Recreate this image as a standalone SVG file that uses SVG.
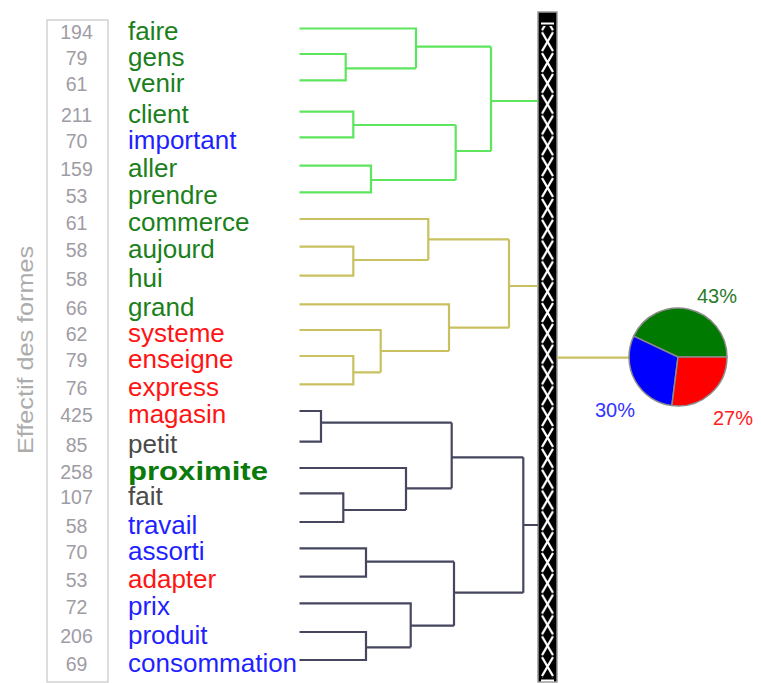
<svg xmlns="http://www.w3.org/2000/svg" width="761" height="683" viewBox="0 0 761 683">
<style>
.w{font-family:"Liberation Sans",Arial,sans-serif;font-size:26px}
.n{font-family:"Liberation Sans",Arial,sans-serif;font-size:19.5px;fill:#a09ca4;text-anchor:middle}
.g{fill:#1b7f1b}.b{fill:#1f1fff}.r{fill:#ff1414}.k{fill:#4a4a4a}
.cg,.cy,.cd{fill:none;stroke-width:2.2}
.cg{stroke:#5de65d}.cy{stroke:#c9c160}.cd{stroke:#46465f}
.p{font-family:"Liberation Sans",Arial,sans-serif;font-size:20px}
</style>
<defs>
<pattern id="xpat" patternUnits="userSpaceOnUse" x="541" y="10.47" width="13" height="20.83">
<path d="M1,1 L12,19.8 M12,1 L1,19.8" stroke="#fff" stroke-width="2.3" fill="none"/>
</pattern>
</defs>
<rect width="761" height="683" fill="#fff"/>
<rect x="47" y="20" width="61" height="662" fill="none" stroke="#d2d2d2" stroke-width="1.5"/>
<text transform="translate(33,350) rotate(-90)" text-anchor="middle" font-family="'Liberation Sans',Arial,sans-serif" font-size="22" fill="#acacac" textLength="208" lengthAdjust="spacingAndGlyphs">Effectif des formes</text>
<g id="bar">
<rect x="538" y="12" width="19" height="670" fill="#000" stroke="#9a9a9a" stroke-width="1.5"/>
<rect x="541" y="26" width="13" height="652" fill="url(#xpat)"/>
<path d="M541,23.5 H554 M541,680.5 H554" stroke="#fff" stroke-width="1.8"/>
</g>
<g id="leaf-faire"><text class="n" x="76.5" y="39">194</text><text class="w g" x="128" y="40">faire</text></g>
<g id="leaf-gens"><text class="n" x="76.5" y="64.5">79</text><text class="w g" x="128" y="65.5">gens</text></g>
<g id="leaf-venir"><text class="n" x="76.5" y="91">61</text><text class="w g" x="128" y="92">venir</text></g>
<g id="leaf-client"><text class="n" x="76.5" y="122">211</text><text class="w g" x="128" y="123">client</text></g>
<g id="leaf-important"><text class="n" x="76.5" y="148">70</text><text class="w b" x="128" y="149">important</text></g>
<g id="leaf-aller"><text class="n" x="76.5" y="176">159</text><text class="w g" x="128" y="177">aller</text></g>
<g id="leaf-prendre"><text class="n" x="76.5" y="203">53</text><text class="w g" x="128" y="204">prendre</text></g>
<g id="leaf-commerce"><text class="n" x="76.5" y="229.5">61</text><text class="w g" x="128" y="230.5">commerce</text></g>
<g id="leaf-aujourd"><text class="n" x="76.5" y="257">58</text><text class="w g" x="128" y="258">aujourd</text></g>
<g id="leaf-hui"><text class="n" x="76.5" y="286">58</text><text class="w g" x="128" y="287">hui</text></g>
<g id="leaf-grand"><text class="n" x="76.5" y="315">66</text><text class="w g" x="128" y="316">grand</text></g>
<g id="leaf-systeme"><text class="n" x="76.5" y="340.5">62</text><text class="w r" x="128" y="341.5">systeme</text></g>
<g id="leaf-enseigne"><text class="n" x="76.5" y="366.5">79</text><text class="w r" x="128" y="367.5">enseigne</text></g>
<g id="leaf-express"><text class="n" x="76.5" y="395">76</text><text class="w r" x="128" y="396">express</text></g>
<g id="leaf-magasin"><text class="n" x="76.5" y="421.5">425</text><text class="w r" x="128" y="422.5">magasin</text></g>
<g id="leaf-petit"><text class="n" x="76.5" y="452">85</text><text class="w k" x="128" y="453">petit</text></g>
<g id="leaf-proximite"><text class="n" x="76.5" y="478.5">258</text><text class="w" x="128" y="479.5" fill="#0a7a0a" font-weight="bold" textLength="140" lengthAdjust="spacingAndGlyphs">proximite</text></g>
<g id="leaf-fait"><text class="n" x="76.5" y="504">107</text><text class="w k" x="128" y="505">fait</text></g>
<g id="leaf-travail"><text class="n" x="76.5" y="532.5">58</text><text class="w b" x="128" y="533.5">travail</text></g>
<g id="leaf-assorti"><text class="n" x="76.5" y="559">70</text><text class="w b" x="128" y="560">assorti</text></g>
<g id="leaf-adapter"><text class="n" x="76.5" y="587">53</text><text class="w r" x="128" y="588">adapter</text></g>
<g id="leaf-prix"><text class="n" x="76.5" y="614">72</text><text class="w b" x="128" y="615">prix</text></g>
<g id="leaf-produit"><text class="n" x="76.5" y="642.5">206</text><text class="w b" x="128" y="643.5">produit</text></g>
<g id="leaf-consommation"><text class="n" x="76.5" y="670.5">69</text><text class="w b" x="128" y="671.5">consommation</text></g>
<g id="connectors">
<path class="cg" d="M299.5,28.5 H416 V68.3 M299.5,54 H345.7 V80.3 H299.5 M345.7,68.3 H416 M416,46.7 H491 M299.5,111.7 H353.3 V137.3 H299.5 M353.3,125 H455.7 M299.5,165.7 H371 V192.3 H299.5 M371,180 H455.7 M455.7,125 V180 M455.7,151 H491 M491,46.7 V151 M491,101 H538"/>
<path class="cy" d="M299.5,219 H428.3 V260 M299.5,246.7 H353.3 V275.7 H299.5 M353.3,260 H428.3 M428.3,239.3 H509 M299.5,304.3 H449 V351 M299.5,330 H380.7 V372.3 M299.5,356 H353.3 V384.3 H299.5 M353.3,372.3 H380.7 M380.7,351 H449 M449,327.7 H509 M509,239.3 V327.7 M509,286 H538 M557,357.7 H629"/>
<path class="cd" d="M299.5,411 H321 V441.7 H299.5 M321,422.7 H451.7 M299.5,468 H406 V510 M299.5,493.3 H343.3 V522 H299.5 M343.3,510 H406 M406,488.3 H451.7 M451.7,422.7 V488.3 M451.7,457.3 H523.3 M299.5,548.3 H366 V576.7 H299.5 M366,561.7 H454 M299.5,603.3 H410.7 V647.3 M299.5,632 H366 V660 H299.5 M366,647.3 H410.7 M410.7,625.7 H454 M454,561.7 V625.7 M454,592.7 H523.3 M523.3,457.3 V592.7 M523.3,525 H538"/>
</g>
<g id="pie" stroke="#8a8a8a" stroke-width="1.5" stroke-linejoin="round">
<path d="M678,357 L727,357 A49,49 0 0 0 633.7,336.1 Z" fill="#007a00"/>
<path d="M678,357 L633.7,336.1 A49,49 0 0 0 671.9,405.6 Z" fill="#0000ff"/>
<path d="M678,357 L671.9,405.6 A49,49 0 0 0 727,357 Z" fill="#ff0000"/>
</g>
<g id="pie-labels">
<text class="p" x="697" y="302.5" fill="#2a7a2a">43%</text>
<text class="p" x="595" y="416.5" fill="#3333ff" font-size="21">30%</text>
<text class="p" x="713" y="425" fill="#ff2020" font-size="21">27%</text>
</g>
</svg>
